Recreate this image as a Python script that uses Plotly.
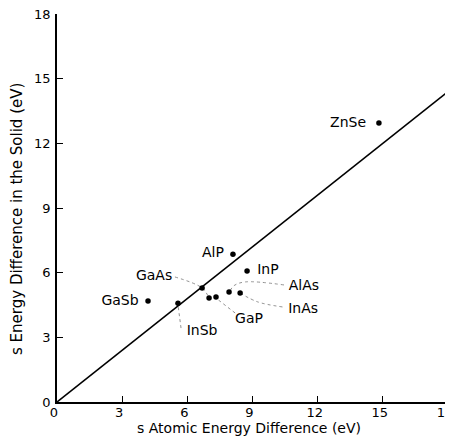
import plotly.graph_objects as go

# data
names = ["ZnSe", "AlP", "InP", "GaAs", "", "GaP", "AlAs", "InAs", "GaSb", "InSb"]
atomic = [14.82, 8.10, 8.75, 7.00, 6.68, 7.32, 7.92, 8.43, 4.19, 5.57]
solid = [12.94, 6.86, 6.08, 4.82, 5.29, 4.87, 5.10, 5.06, 4.68, 4.58]

line_x = [0, 18]
line_y = [0, 14.4]

tick_vals = [0, 3, 6, 9, 12, 15, 18]
tick_text = ["0", "3", "6", "9", "12", "15", "18"]

x_title = "s Atomic Energy Difference (eV)"
y_title = "s Energy Difference in the Solid (eV)"

# label placement (data coordinates)
label_names = ["ZnSe", "AlP", "InP", "GaAs", "GaSb", "AlAs", "InAs", "GaP", "InSb"]
label_x = [13.40, 7.18, 9.71, 4.47, 2.90, 11.37, 11.33, 8.84, 6.68]
label_y = [12.94, 6.91, 6.08, 5.84, 4.68, 5.38, 4.31, 3.85, 3.25]

# leader lines
leaders = [
    ([5.43, 6.68, 7.00], [5.80, 5.29, 4.82]),
    ([5.71, 5.57], [3.43, 4.50]),
    ([8.20, 7.37], [4.13, 4.78]),
    ([10.45, 8.66, 8.15, 7.95], [5.43, 5.57, 5.40, 5.12]),
    ([10.38, 9.25, 8.45], [4.41, 4.64, 5.04]),
]

FONT = "DejaVu Sans"

fig = go.Figure()
fig.add_trace(go.Scatter(x=line_x, y=line_y, mode="lines",
                         line=dict(color="black", width=1.6), hoverinfo="skip"))
for lx, ly in leaders:
    fig.add_trace(go.Scatter(x=lx, y=ly, mode="lines",
                             line=dict(color="#777", width=0.8, dash="dot", shape="spline"),
                             hoverinfo="skip"))
fig.add_trace(go.Scatter(x=atomic, y=solid, mode="markers", text=names,
                         marker=dict(color="black", size=5.5)))
fig.add_trace(go.Scatter(x=label_x, y=label_y, mode="text", text=label_names,
                         textfont=dict(family=FONT, size=14, color="black"),
                         textposition="middle center", hoverinfo="skip"))

axis_common = dict(range=[0, 18], tickvals=tick_vals, ticktext=tick_text,
                   showgrid=False, zeroline=False, showline=True,
                   linecolor="black", linewidth=1.8, ticks="inside",
                   ticklen=6, tickwidth=1.3, tickcolor="black",
                   tickfont=dict(family=FONT, size=13, color="black"),
                   ticklabeloverflow="allow",
                   mirror=False, fixedrange=True, automargin=False)

fig.update_layout(
    width=445, height=428,
    margin=dict(l=49, r=5, t=6, b=34),
    paper_bgcolor="white", plot_bgcolor="white",
    showlegend=False,
    xaxis=dict(**axis_common, ticklabelshift=-3, ticklabelstandoff=-3),
    yaxis=dict(**axis_common, ticklabelstandoff=2),
    annotations=[
        dict(text=x_title, xref="paper", yref="paper", x=0.49, y=-0.068,
             xanchor="center", yanchor="middle", showarrow=False,
             font=dict(family=FONT, size=14, color="black")),
        dict(text=y_title, xref="paper", yref="paper", x=-0.102, y=0.472,
             xanchor="center", yanchor="middle", showarrow=False, textangle=-90,
             font=dict(family=FONT, size=15, color="black")),
    ],
)

fig.write_html("out.html")
